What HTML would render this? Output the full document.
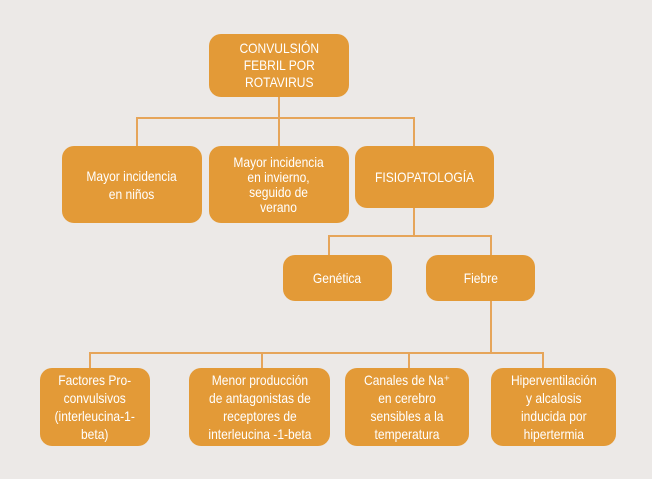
<!DOCTYPE html>
<html><head><meta charset="utf-8"><style>
html,body{margin:0;padding:0;}
body{width:652px;height:479px;background:#ece9e7;position:relative;overflow:hidden;font-family:"Liberation Sans",sans-serif;}
.b{position:absolute;background:#e39a37;border-radius:12px;color:#fff;display:flex;align-items:center;justify-content:center;text-align:center;font-size:14px;line-height:15px;}
.b span{display:inline-block;transform:scaleX(.86);white-space:nowrap;}
.l{position:absolute;background:#e6a55a;}
</style></head><body>
<div class="l" style="left:278px;top:97px;width:2px;height:49px"></div>
<div class="l" style="left:137px;top:117px;width:278px;height:2px"></div>
<div class="l" style="left:136px;top:117px;width:2px;height:29px"></div>
<div class="l" style="left:413px;top:117px;width:2px;height:29px"></div>
<div class="l" style="left:413px;top:207px;width:2px;height:29px"></div>
<div class="l" style="left:329px;top:235px;width:163px;height:2px"></div>
<div class="l" style="left:328px;top:235px;width:2px;height:20px"></div>
<div class="l" style="left:490px;top:235px;width:2px;height:20px"></div>
<div class="l" style="left:490px;top:300px;width:2px;height:53px"></div>
<div class="l" style="left:90px;top:352px;width:454px;height:2px"></div>
<div class="l" style="left:89px;top:352px;width:2px;height:16px"></div>
<div class="l" style="left:261px;top:352px;width:2px;height:16px"></div>
<div class="l" style="left:408px;top:352px;width:2px;height:16px"></div>
<div class="l" style="left:542px;top:352px;width:2px;height:16px"></div>

<div class="b" style="left:209px;top:34px;width:140px;height:63px;line-height:17px"><span>CONVULSIÓN<br>FEBRIL POR<br>ROTAVIRUS</span></div>
<div class="b" style="left:62px;top:146px;width:140px;height:77px;line-height:18px"><span>Mayor incidencia<br>en niños</span></div>
<div class="b" style="left:209px;top:146px;width:140px;height:77px"><span>Mayor incidencia<br>en invierno,<br>seguido de<br>verano</span></div>
<div class="b" style="left:355px;top:146px;width:139px;height:62px"><span>FISIOPATOLOGÍA</span></div>
<div class="b" style="left:283px;top:255px;width:109px;height:46px"><span>Genética</span></div>
<div class="b" style="left:426px;top:255px;width:109px;height:46px"><span>Fiebre</span></div>
<div class="b" style="left:40px;top:368px;width:110px;height:78px;line-height:18px"><span>Factores Pro-<br>convulsivos<br>(interleucina-1-<br>beta)</span></div>
<div class="b" style="left:189px;top:368px;width:141px;height:78px;line-height:18px"><span>Menor producción<br>de antagonistas de<br>receptores de<br>interleucina -1-beta</span></div>
<div class="b" style="left:345px;top:368px;width:124px;height:78px;line-height:18px"><span>Canales de Na⁺<br>en cerebro<br>sensibles a la<br>temperatura</span></div>
<div class="b" style="left:491px;top:368px;width:125px;height:78px;line-height:18px"><span>Hiperventilación<br>y alcalosis<br>inducida por<br>hipertermia</span></div>
</body></html>
